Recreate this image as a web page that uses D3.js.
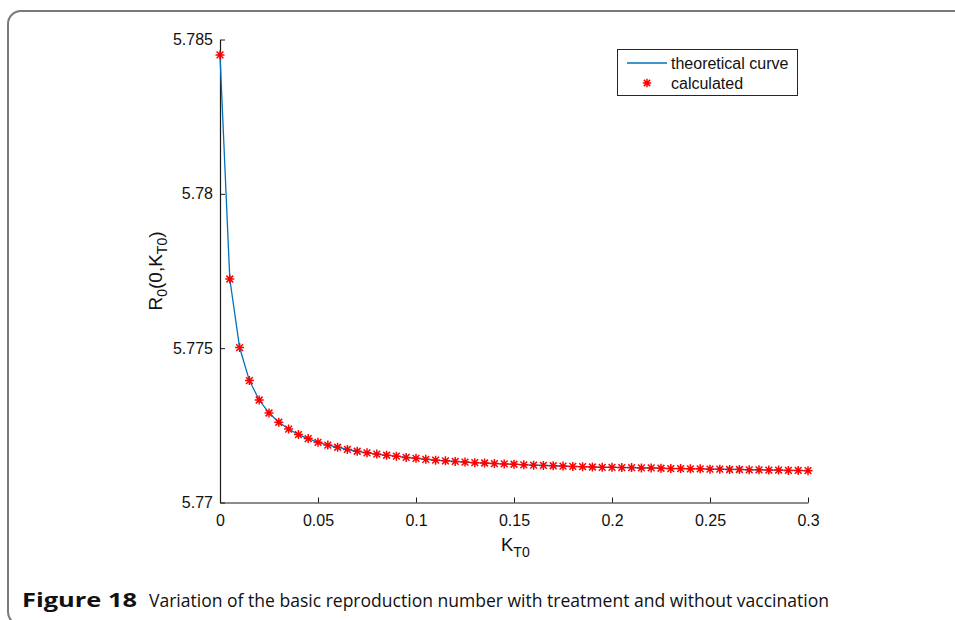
<!DOCTYPE html>
<html>
<head>
<meta charset="utf-8">
<script src="https://cdn.jsdelivr.net/npm/d3@7"></script>
<style>
  html, body { margin: 0; padding: 0; background: #fff; }
  svg { display: block; }
</style>
</head>
<body>
<svg id="chart" width="955" height="620"></svg>
<script>
// ---- data ----
const kT0 = [
  0, 0.005, 0.01, 0.015, 0.02, 0.025, 0.03, 0.035, 0.04, 0.045,
  0.05, 0.055, 0.06, 0.065, 0.07, 0.075, 0.08, 0.085, 0.09, 0.095,
  0.1, 0.105, 0.11, 0.115, 0.12, 0.125, 0.13, 0.135, 0.14, 0.145,
  0.15, 0.155, 0.16, 0.165, 0.17, 0.175, 0.18, 0.185, 0.19, 0.195,
  0.2, 0.205, 0.21, 0.215, 0.22, 0.225, 0.23, 0.235, 0.24, 0.245,
  0.25, 0.255, 0.26, 0.265, 0.27, 0.275, 0.28, 0.285, 0.29, 0.295, 0.3
];
const theoretical = [
  5.78450, 5.77724, 5.77502, 5.77395, 5.77332, 5.77290, 5.77260, 5.77238, 5.77220, 5.77207,
  5.77195, 5.77186, 5.77179, 5.77172, 5.77166, 5.77161, 5.77157, 5.77153, 5.77150, 5.77146,
  5.77143, 5.77140, 5.77137, 5.77135, 5.77133, 5.77131, 5.77129, 5.77128, 5.77126, 5.77125,
  5.77124, 5.77122, 5.77121, 5.77120, 5.77119, 5.77118, 5.77117, 5.77116, 5.77115, 5.77114,
  5.77114, 5.77113, 5.77113, 5.77112, 5.77112, 5.77111, 5.77110, 5.77110, 5.77109, 5.77109,
  5.77108, 5.77108, 5.77107, 5.77107, 5.77106, 5.77106, 5.77105, 5.77105, 5.77104, 5.77104, 5.77103
];
const calculated = theoretical.slice();
const xTicks = [0, 0.05, 0.1, 0.15, 0.2, 0.25, 0.3];
const xTickLabels = ["0", "0.05", "0.1", "0.15", "0.2", "0.25", "0.3"];
const yTicks = [5.77, 5.775, 5.78, 5.785];
const yTickLabels = ["5.77", "5.775", "5.78", "5.785"];
const legendLabels = ["theoretical curve", "calculated"];
const captionBold = "Figure 18";
const captionText = "Variation of the basic reproduction number with treatment and without vaccination";

// ---- drawing ----
const svg = d3.select("#chart");
const font = "'Liberation Sans', Arial, Helvetica, sans-serif";

// outer frame
svg.append("rect")
  .attr("x", 8).attr("y", 11)
  .attr("width", 990).attr("height", 614)
  .attr("rx", 13).attr("ry", 13)
  .attr("fill", "none")
  .attr("stroke", "#7a7a7a")
  .attr("stroke-width", 2);

const x = d3.scaleLinear().domain([0, 0.3]).range([220, 808]);
const y = d3.scaleLinear().domain([5.77, 5.785]).range([502.5, 39.5]);

// x axis
const gx = svg.append("g").attr("transform", `translate(0,${y(5.77)})`)
  .call(d3.axisBottom(x).tickValues(xTicks)
    .tickFormat((d, i) => xTickLabels[i])
    .tickSizeInner(-5).tickSizeOuter(0).tickPadding(12));
// y axis
const gy = svg.append("g").attr("transform", `translate(${x(0)},0)`)
  .call(d3.axisLeft(y).tickValues(yTicks)
    .tickFormat((d, i) => yTickLabels[i])
    .tickSizeInner(-5).tickSizeOuter(0).tickPadding(7));

[gx, gy].forEach(g => {
  g.select(".domain").attr("stroke", "#1a1a1a").attr("stroke-width", 1.2);
  g.selectAll(".tick line").attr("stroke", "#1a1a1a").attr("stroke-width", 1);
  g.selectAll(".tick text").attr("fill", "#111")
    .style("font-family", font).style("font-size", "16px");
});

// theoretical curve
const line = d3.line().x((d, i) => x(kT0[i])).y(d => y(d));
svg.append("path")
  .datum(theoretical)
  .attr("d", line)
  .attr("fill", "none")
  .attr("stroke", "#0072BD")
  .attr("stroke-width", 1.3);

// asterisk marker
function asterisk(g, cx, cy, r) {
  const d = r * 0.75;
  const p = `M${cx - r},${cy}H${cx + r}M${cx},${cy - r}V${cy + r}` +
            `M${cx - d},${cy - d}L${cx + d},${cy + d}M${cx - d},${cy + d}L${cx + d},${cy - d}`;
  g.append("path").attr("d", p).attr("stroke", "#ff0000")
    .attr("stroke-width", 1.5).attr("fill", "none");
}
const gm = svg.append("g");
calculated.forEach((v, i) => asterisk(gm, x(kT0[i]), y(v), 4.5));

// axis labels
const xl = svg.append("text")
  .attr("x", 501).attr("y", 551)
  .style("font-family", font).style("font-size", "18.5px").attr("fill", "#111");
xl.append("tspan").text("K");
xl.append("tspan").attr("dy", 6).style("font-size", "14px").text("T0");

const yl = svg.append("text")
  .attr("transform", "translate(162,271) rotate(-90)")
  .attr("text-anchor", "middle")
  .style("font-family", font).style("font-size", "19px").attr("fill", "#111");
yl.append("tspan").text("R");
yl.append("tspan").attr("dy", 5).style("font-size", "14px").text("0");
yl.append("tspan").attr("dy", -5).text("(0,K");
yl.append("tspan").attr("dy", 5).style("font-size", "14px").text("T0");
yl.append("tspan").attr("dy", -5).text(")");

// legend
const lg = svg.append("g");
lg.append("rect").attr("x", 617.5).attr("y", 49.5).attr("width", 180).attr("height", 46)
  .attr("fill", "#fff").attr("stroke", "#262626").attr("stroke-width", 1);
lg.append("line").attr("x1", 627).attr("x2", 667).attr("y1", 63).attr("y2", 63)
  .attr("stroke", "#0072BD").attr("stroke-width", 1.3);
asterisk(lg, 647, 83, 4.2);
legendLabels.forEach((t, i) => {
  lg.append("text").attr("x", 671).attr("y", 68.5 + i * 20.5).text(t)
    .style("font-family", font).style("font-size", "16px").attr("fill", "#111");
});

// caption
svg.append("text").attr("x", 22).attr("y", 607)
  .attr("textLength", 115).attr("lengthAdjust", "spacingAndGlyphs")
  .style("font-family", "'Open Sans', 'Noto Sans', sans-serif")
  .style("font-size", "19px").style("font-weight", "bold").attr("fill", "#111")
  .text(captionBold);
svg.append("text").attr("x", 149).attr("y", 607)
  .attr("textLength", 680).attr("lengthAdjust", "spacingAndGlyphs")
  .style("font-family", "'Open Sans', 'Noto Sans', sans-serif")
  .style("font-size", "19px").attr("fill", "#111")
  .text(captionText);
</script>
</body>
</html>
